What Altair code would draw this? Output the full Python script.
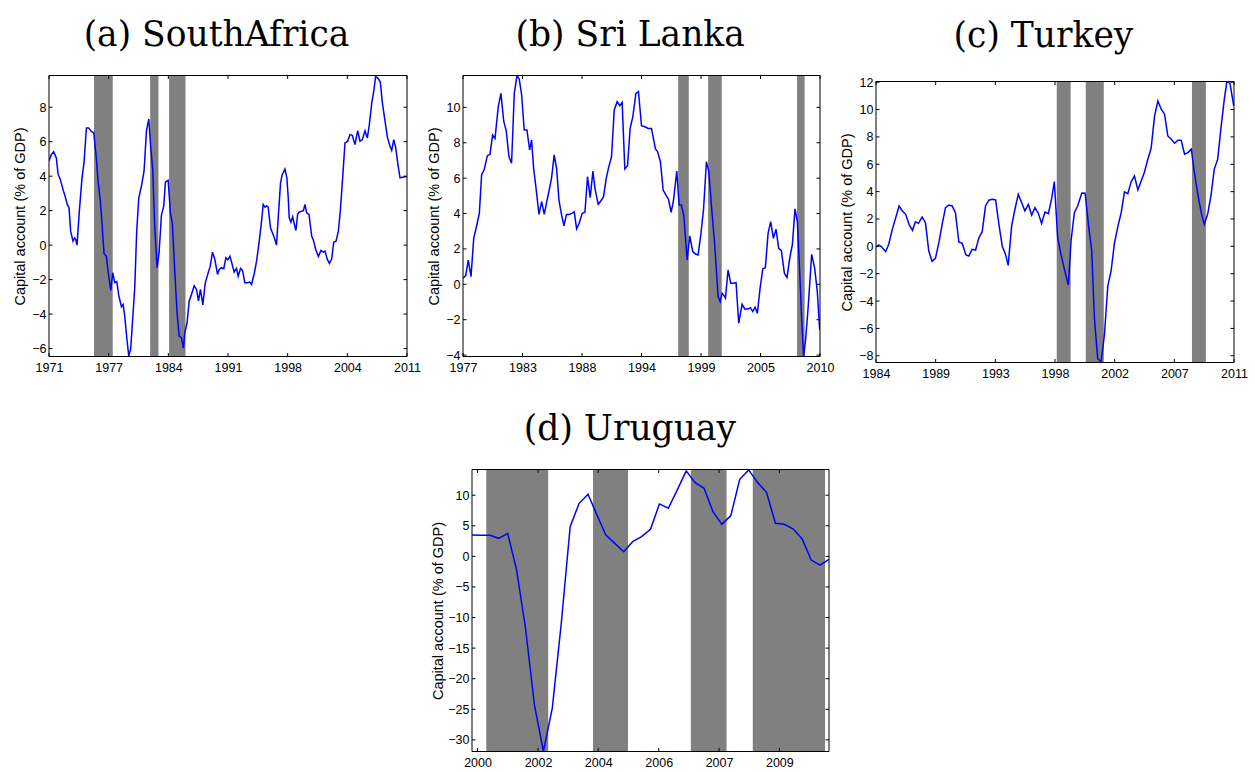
import altair as alt
import pandas as pd

# ---------------- (a) South Africa ----------------
sa_t = [1971.00, 1971.26, 1971.52, 1971.82, 1972.01, 1972.27, 1972.57, 1972.83, 1973.05, 1973.24,
        1973.42, 1973.68, 1973.87, 1973.98, 1974.13, 1974.39, 1974.69, 1974.91, 1975.18, 1975.44,
        1975.73, 1976.00, 1976.29, 1976.48, 1976.74, 1976.93, 1977.15, 1977.41, 1977.60, 1977.90,
        1978.12, 1978.34, 1978.57, 1978.79, 1979.09, 1979.28, 1979.46, 1979.69, 1979.91, 1980.13,
        1980.36, 1980.58, 1980.80, 1981.03, 1981.33, 1981.62, 1981.89, 1982.15, 1982.37, 1982.59,
        1982.82, 1983.08, 1983.30, 1983.56, 1983.82, 1984.01, 1984.31, 1984.57, 1984.79, 1985.05,
        1985.32, 1985.54, 1985.80, 1986.02, 1986.17, 1986.43, 1986.66, 1986.92, 1987.22, 1987.48,
        1987.70, 1987.92, 1988.19, 1988.45, 1988.71, 1989.01, 1989.27, 1989.53, 1989.83, 1990.01,
        1990.27, 1990.53, 1990.76, 1990.98, 1991.21, 1991.47, 1991.69, 1991.95, 1992.14, 1992.40,
        1992.62, 1992.88, 1993.18, 1993.44, 1993.63, 1993.93, 1994.19, 1994.49, 1994.75, 1994.93,
        1995.12, 1995.31, 1995.49, 1995.75, 1995.94, 1996.16, 1996.42, 1996.61, 1996.87, 1997.06,
        1997.36, 1997.58, 1997.73, 1997.84, 1998.03, 1998.22, 1998.40, 1998.59, 1998.78, 1998.93,
        1999.23, 1999.42, 1999.60, 1999.79, 2000.05, 2000.35, 2000.54, 2000.80, 2001.10, 2001.39,
        2001.66, 2001.84, 2002.10, 2002.33, 2002.59, 2002.81, 2003.07, 2003.33, 2003.55, 2003.81,
        2004.07, 2004.37, 2004.63, 2004.89, 2005.19, 2005.49, 2005.75, 2006.01, 2006.31, 2006.57,
        2006.79, 2007.06, 2007.28, 2007.50, 2007.80, 2008.02, 2008.25, 2008.55, 2008.81, 2009.11,
        2009.29, 2009.52, 2009.74, 2009.96, 2010.22, 2010.48, 2010.78, 2010.97]
sa_v = [4.9, 5.25, 5.42, 5.06, 4.13, 3.8, 3.22, 2.78, 2.36, 2.16,
        0.81, 0.23, 0.42, 0.33, 0.0, 1.97, 3.9, 4.77, 6.8, 6.8,
        6.6, 6.52, 5.06, 3.7, 2.55, 1.2, -0.5, -0.65, -1.5, -2.63,
        -1.6, -2.18, -2.12, -2.9, -3.57, -3.44, -4.1, -5.37, -6.43, -6.0,
        -4.2, -2.47, 0.81, 2.74, 3.42, 4.29, 6.64, 7.32, 5.64, 4.38,
        1.0, -1.31, -0.44, 1.74, 2.26, 3.67, 3.76, 1.87, 1.2, -1.5,
        -4.0, -5.27, -5.37, -5.98, -5.08, -4.5, -3.24, -2.86, -2.36, -2.57,
        -3.24, -2.57, -3.47, -2.22, -1.74, -1.22, -0.41, -0.83, -1.7, -1.41,
        -1.31, -1.37, -0.73, -0.85, -0.64, -1.12, -1.56, -1.35, -1.8, -1.35,
        -1.47, -2.18, -2.18, -2.14, -2.28, -1.66, -0.93, 0.23, 1.39, 2.36,
        2.2, 2.28, 2.2, 1.0, 0.75, 0.46, 0.0, 1.58, 3.61, 4.09,
        4.42, 3.9, 2.74, 1.58, 1.33, 1.64, 1.25, 0.85, 1.8, 1.91,
        1.97, 2.0, 2.36, 1.87, 1.78, 0.52, 0.29, -0.25, -0.66, -0.31,
        -0.41, -0.35, -0.83, -1.06, -0.79, 0.17, 0.23, 0.81, 1.97, 3.9,
        5.93, 6.03, 6.41, 6.37, 5.83, 6.64, 6.03, 6.12, 6.64, 6.22,
        6.99, 8.24, 8.92, 9.79, 9.65, 9.46, 8.24, 7.18, 6.26, 5.73,
        5.5, 6.12, 5.64, 4.77, 3.9, 3.94, 3.97, 3.96]
sa_shade_start = [1976.03, 1982.30, 1984.42]
sa_shade_end = [1978.12, 1983.23, 1986.25]
sa_xticks = [1971, 1977.667, 1984.333, 1991, 1997.667, 2004.333, 2011]
sa_xlabels = ["1971", "1977", "1984", "1991", "1998", "2004", "2011"]
sa_yticks = [-6, -4, -2, 0, 2, 4, 6, 8]

# ---------------- (b) Sri Lanka ----------------
lk_t = [1977.00, 1977.25, 1977.49, 1977.74, 1977.99, 1978.26, 1978.51, 1978.72, 1978.97, 1979.25,
        1979.49, 1979.74, 1979.96, 1980.26, 1980.51, 1980.76, 1981.00, 1981.25, 1981.49, 1981.74,
        1981.99, 1982.20, 1982.42, 1982.66, 1982.91, 1983.16, 1983.34, 1983.53, 1983.77, 1984.02,
        1984.27, 1984.51, 1984.73, 1984.97, 1985.19, 1985.43, 1985.65, 1985.87, 1986.11, 1986.33,
        1986.57, 1986.79, 1987.07, 1987.28, 1987.50, 1987.74, 1988.02, 1988.27, 1988.51, 1988.76,
        1989.01, 1989.22, 1989.50, 1989.74, 1989.99, 1990.24, 1990.48, 1990.73, 1990.98, 1991.25,
        1991.50, 1991.71, 1991.96, 1992.21, 1992.45, 1992.70, 1992.98, 1993.22, 1993.50, 1993.81,
        1994.12, 1994.42, 1994.79, 1994.98, 1995.25, 1995.50, 1995.75, 1995.99, 1996.24, 1996.46,
        1996.76, 1996.98, 1997.19, 1997.41, 1997.72, 1997.96, 1998.24, 1998.49, 1998.73, 1998.98,
        1999.23, 1999.50, 1999.72, 1999.96, 2000.27, 2000.58, 2000.77, 2000.95, 2001.13, 2001.26,
        2001.50, 2001.75, 2001.97, 2002.24, 2002.49, 2002.80, 2003.04, 2003.35, 2003.57, 2003.78,
        2004.00, 2004.21, 2004.46, 2004.71, 2004.95, 2005.20, 2005.44, 2005.69, 2005.94, 2006.18,
        2006.43, 2006.71, 2006.95, 2007.20, 2007.45, 2007.69, 2007.91, 2008.12, 2008.31, 2008.49,
        2008.68, 2008.92, 2009.23, 2009.51, 2009.75, 2009.97]
lk_v = [0.34, 0.49, 1.37, 0.43, 2.6, 3.31, 4.01, 6.18, 6.5, 7.27,
        7.34, 8.44, 8.25, 10.04, 10.79, 9.23, 8.66, 7.21, 6.84, 10.79,
        11.79, 11.6, 10.7, 8.72, 8.72, 7.59, 8.15, 6.55, 5.33, 3.95,
        4.67, 3.95, 4.63, 5.33, 6.03, 7.31, 6.55, 4.76, 3.92, 3.31,
        3.95, 3.95, 4.01, 4.1, 3.13, 3.45, 4.01, 4.07, 6.08, 4.9,
        6.4, 5.33, 4.52, 4.71, 4.95, 5.99, 6.65, 7.21, 9.85, 10.32,
        10.09, 10.28, 6.52, 6.7, 8.81, 9.47, 10.79, 10.89, 8.96, 8.9,
        8.81, 8.81, 7.65, 7.5, 6.93, 5.33, 5.05, 4.82, 4.07, 4.76,
        6.4, 4.48, 4.48, 3.88, 1.37, 2.73, 1.85, 1.71, 1.66, 2.79,
        4.2, 6.93, 6.37, 4.48, 2.22, -0.7, -0.98, -0.51, -0.64, -0.79,
        0.81, 0.06, 0.06, 0.09, -2.2, -1.13, -1.39, -1.39, -1.32, -1.54,
        -1.3, -1.64, -0.23, 0.87, 0.94, 2.88, 3.54, 2.6, 3.11, 2.03,
        1.9, 0.62, 0.38, 1.47, 2.26, 4.26, 3.54, 0.72, -2.01, -4.09,
        -3.05, -1.17, 1.69, 0.9, -0.41, -2.58]
lk_shade_start = [1996.89, 1999.66, 2007.88]
lk_shade_end = [1997.87, 2000.92, 2008.58]
lk_xticks = [1977, 1982.5, 1988, 1993.5, 1999, 2004.5, 2010]
lk_xlabels = ["1977", "1983", "1988", "1994", "1999", "2005", "2010"]
lk_yticks = [-4, -2, 0, 2, 4, 6, 8, 10]

# ---------------- (c) Turkey ----------------
tr_t = [1984.00, 1984.20, 1984.40, 1984.73, 1984.96, 1985.23, 1985.49, 1985.74, 1985.99, 1986.24,
        1986.49, 1986.75, 1986.97, 1987.20, 1987.48, 1987.73, 1987.98, 1988.23, 1988.48, 1988.74,
        1988.99, 1989.24, 1989.49, 1989.74, 1989.99, 1990.25, 1990.50, 1990.78, 1991.00, 1991.25,
        1991.51, 1991.76, 1992.01, 1992.26, 1992.51, 1992.77, 1993.02, 1993.27, 1993.52, 1993.77,
        1993.97, 1994.23, 1994.48, 1994.73, 1994.98, 1995.23, 1995.49, 1995.74, 1995.99, 1996.24,
        1996.49, 1996.74, 1997.00, 1997.25, 1997.45, 1997.70, 1997.95, 1998.21, 1998.51, 1998.71,
        1998.96, 1999.21, 1999.52, 1999.77, 2000.02, 2000.27, 2000.47, 2000.72, 2000.98, 2001.23,
        2001.48, 2001.73, 2001.98, 2002.24, 2002.49, 2002.74, 2002.99, 2003.24, 2003.49, 2003.75,
        2004.00, 2004.25, 2004.50, 2004.75, 2005.01, 2005.26, 2005.51, 2005.76, 2006.01, 2006.27,
        2006.52, 2006.77, 2007.02, 2007.27, 2007.53, 2007.78, 2008.03, 2008.28, 2008.53, 2008.76,
        2009.01, 2009.26, 2009.51, 2009.77, 2010.02, 2010.27, 2010.47, 2010.70, 2010.98]
tr_v = [-0.05, 0.1, -0.02, -0.39, 0.15, 1.24, 2.1, 2.95, 2.59, 2.34,
        1.61, 1.17, 1.8, 1.68, 2.15, 1.73, -0.34, -1.1, -0.88, 0.27,
        1.61, 2.83, 3.02, 2.95, 2.46, 0.32, 0.22, -0.63, -0.71, -0.22,
        -0.27, 0.63, 1.07, 2.95, 3.37, 3.44, 3.39, 1.61, 0.02, -0.59,
        -1.39, 1.49, 2.71, 3.8, 3.2, 2.59, 3.07, 2.29, 2.83, 2.41,
        1.68, 2.51, 2.39, 3.5, 4.73, 0.63, -0.59, -1.68, -2.83, 0.39,
        2.46, 2.95, 3.9, 3.88, 1.61, -0.34, -5.22, -8.2, -8.44, -6.44,
        -2.9, -1.8, 0.22, 1.44, 2.46, 3.98, 3.85, 4.71, 5.15, 4.12,
        4.78, 5.44, 6.37, 7.17, 9.54, 10.63, 10.02, 9.66, 8.07, 7.83,
        7.54, 7.76, 7.76, 6.73, 6.85, 7.1, 5.27, 3.76, 2.46, 1.61,
        2.34, 3.68, 5.63, 6.37, 8.68, 10.76, 12.1, 11.9, 10.27]
tr_shade_start = [1997.63, 1999.82, 2007.83]
tr_shade_end = [1998.68, 2001.18, 2008.88]
tr_xticks = [1984, 1988.5, 1993, 1997.5, 2002, 2006.5, 2011]
tr_xlabels = ["1984", "1989", "1993", "1998", "2002", "2007", "2011"]
tr_yticks = [-8, -6, -4, -2, 0, 2, 4, 6, 8, 10, 12]

# ---------------- (d) Uruguay ----------------
uy_t = [2000.00, 2000.25, 2000.50, 2000.75, 2001.00, 2001.25, 2001.50, 2001.75, 2002.00, 2002.25,
        2002.50, 2002.75, 2003.00, 2003.25, 2003.50, 2003.75, 2004.00, 2004.25, 2004.50, 2004.75,
        2005.00, 2005.25, 2005.50, 2005.75, 2006.00, 2006.25, 2006.50, 2006.75, 2007.00, 2007.25,
        2007.50, 2007.75, 2008.00, 2008.25, 2008.50, 2008.75, 2009.00, 2009.25, 2009.50, 2009.75,
        2010.00]
uy_v = [3.49, 3.47, 3.44, 2.95, 3.76, -2.24, -11.78, -24.33, -31.86, -24.77,
        -11.0, 4.86, 8.67, 10.15, 6.77, 3.49, 2.13, 0.76, 2.4, 3.22,
        4.42, 8.57, 7.86, 10.86, 13.97, 12.06, 11.13, 7.31, 5.24, 6.66,
        12.6, 14.13, 12.06, 10.47, 5.4, 5.24, 4.47, 2.84, -0.6, -1.42,
        -0.49]
uy_shade_start = [2000.40, 2003.39, 2006.13, 2007.865]
uy_shade_end = [2002.135, 2004.37, 2007.13, 2009.89]
uy_xticks = [2000.155, 2001.85, 2003.535, 2005.23, 2006.92, 2008.61]
uy_xlabels = ["2000", "2002", "2004", "2006", "2007", "2009"]
uy_yticks = [-30, -25, -20, -15, -10, -5, 0, 5, 10]

YTITLE = "Capital account (% of GDP)"
SANS = "Liberation Sans"
SERIF = "DejaVu Serif"
TL = 3.5  # inward tick length


def panel(title, t, v, s0, s1, xticks, xlabels, xdom, yticks, ydom, W, H,
          extent, tpad, title_offset):
    line_df = pd.DataFrame({"t": t, "v": v})
    shade_df = pd.DataFrame({"s0": s0, "s1": s1})
    xt_df = pd.DataFrame({"x": xticks})
    yt_df = pd.DataFrame({"y": yticks})
    xscale = alt.Scale(domain=xdom, nice=False, zero=False)
    yscale = alt.Scale(domain=ydom, nice=False, zero=False)
    keys = ",".join(str(round(x * 1000)) for x in xticks)
    labs = ",".join("'" + s + "'" for s in xlabels)
    label_expr = "[" + labs + "][indexof([" + keys + "], round(datum.value*1000))]"
    xaxis = alt.Axis(values=xticks, labelExpr=label_expr, title=None, ticks=False, tickSize=0,
                     domain=False, grid=False, labelFlush=False, labelOverlap=False,
                     labelPadding=5, labelFont=SANS, labelFontSize=12.5, labelColor="black")
    yaxis = alt.Axis(values=yticks, title=YTITLE, ticks=False, tickSize=0, domain=False,
                     grid=False, labelFlush=False, labelOverlap=False, labelPadding=3,
                     labelFont=SANS, labelFontSize=12.5, labelColor="black",
                     minExtent=extent, maxExtent=extent, titlePadding=tpad,
                     titleFont=SANS, titleFontSize=14.5, titleFontWeight="normal",
                     titleColor="black")
    X = lambda f: alt.X(f, scale=xscale, axis=xaxis)
    Y = lambda f: alt.Y(f, scale=yscale, axis=yaxis)

    shade = alt.Chart(shade_df).mark_rect(color="#808080", clip=True).encode(
        x=X("s0:Q"), x2="s1", y=alt.value(0), y2=alt.value(H))
    line = alt.Chart(line_df).mark_line(color="#0000ff", strokeWidth=1.5, clip=True).encode(
        x=X("t:Q"), y=Y("v:Q"))
    xt_bot = alt.Chart(xt_df).mark_rule(color="black", strokeWidth=1).encode(
        x=X("x:Q"), y=alt.value(H), y2=alt.value(H - TL))
    xt_top = alt.Chart(xt_df).mark_rule(color="black", strokeWidth=1).encode(
        x=X("x:Q"), y=alt.value(0), y2=alt.value(TL))
    yt_l = alt.Chart(yt_df).mark_rule(color="black", strokeWidth=1).encode(
        y=Y("y:Q"), x=alt.value(0), x2=alt.value(TL))
    yt_r = alt.Chart(yt_df).mark_rule(color="black", strokeWidth=1).encode(
        y=Y("y:Q"), x=alt.value(W - TL), x2=alt.value(W))
    frame = alt.Chart(pd.DataFrame({"a": [0]})).mark_rect(
        fillOpacity=0, stroke="black", strokeWidth=1).encode(
        x=alt.value(0), x2=alt.value(W), y=alt.value(0), y2=alt.value(H))
    return alt.layer(shade, line, xt_bot, xt_top, yt_l, yt_r, frame).properties(
        width=W, height=H,
        title=alt.TitleParams(text=title, font=SERIF, fontSize=34.5, fontWeight="normal",
                              color="black", anchor="middle", frame="bounds",
                              baseline="bottom", offset=title_offset))


def spacer(w, h):
    return alt.Chart(pd.DataFrame({"a": [0]})).mark_point(opacity=0).encode(
        x=alt.X("a:Q", axis=None), y=alt.Y("a:Q", axis=None)).properties(width=w, height=h)


pa = panel("(a) SouthAfrica", sa_t, sa_v, sa_shade_start, sa_shade_end, sa_xticks, sa_xlabels,
           [1971, 2011], sa_yticks, [-6.46, 9.84], 358, 281, 18, 3.5, -12)
pb = panel("(b) Sri Lanka", lk_t, lk_v, lk_shade_start, lk_shade_end, lk_xticks, lk_xlabels,
           [1977, 2010], lk_yticks, [-4.08, 11.8], 357, 281, 18, 3.5, -12)
pc = panel("(c) Turkey", tr_t, tr_v, tr_shade_start, tr_shade_end, tr_xticks, tr_xlabels,
           [1984, 2011], tr_yticks, [-8.49, 12.05], 358, 281, 18, 3.5, -12)
pdd = panel("(d) Uruguay", uy_t, uy_v, uy_shade_start, uy_shade_end, uy_xticks, uy_xlabels,
            [2000, 2010], uy_yticks, [-31.9, 14.2], 357, 282, 24, 2.7, -12)

row1 = alt.hconcat(pa, pb, alt.vconcat(spacer(358, 1), pc, spacing=5, bounds="flush"),
                   spacing=56, bounds="flush")
row2 = alt.hconcat(spacer(412, 1), pdd, spacing=11, bounds="flush")

chart = alt.vconcat(row1, row2, spacing=31).properties(
    padding={"left": 12, "top": 17.5, "right": 5, "bottom": 5}
).configure_view(strokeWidth=0)

chart.save("out.html", embed_options={"renderer": "svg", "actions": False})
